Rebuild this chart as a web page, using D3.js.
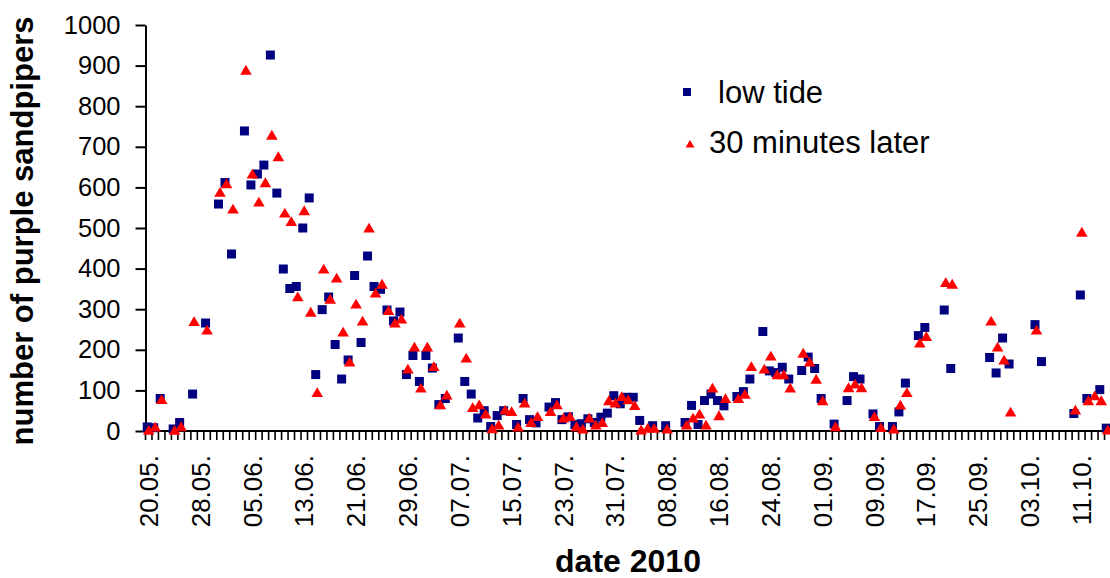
<!DOCTYPE html>
<html>
<head>
<meta charset="utf-8">
<script src="https://cdn.jsdelivr.net/npm/d3@7"></script>
<style>
  html, body { margin: 0; padding: 0; background: #ffffff; }
  svg { display: block; font-family: "Liberation Sans", Arial, sans-serif; }
</style>
</head>
<body>
<svg id="chart" width="1110" height="578"></svg>
<script>
// Counts of purple sandpipers, 2010 season (null = no count that day)
const dates = [
  "20.05.","21.05.","22.05.","24.05.","25.05.","27.05.","29.05.","31.05.","01.06.","02.06.",
  "04.06.","05.06.","06.06.","07.06.","08.06.","09.06.","10.06.","11.06.","12.06.","13.06.",
  "14.06.","15.06.","16.06.","17.06.","18.06.","19.06.","20.06.","21.06.","22.06.","23.06.",
  "24.06.","25.06.","26.06.","27.06.","28.06.","29.06.","30.06.","01.07.","02.07.","03.07.",
  "04.07.","05.07.","07.07.","08.07.","09.07.","10.07.","11.07.","12.07.","13.07.","14.07.",
  "15.07.","16.07.","17.07.","18.07.","19.07.","21.07.","22.07.","23.07.","24.07.","25.07.",
  "26.07.","27.07.","28.07.","29.07.","30.07.","31.07.","01.08.","02.08.","03.08.","04.08.",
  "05.08.","06.08.","08.08.","11.08.","12.08.","13.08.","14.08.","15.08.","16.08.","17.08.",
  "19.08.","20.08.","21.08.","23.08.","24.08.","25.08.","26.08.","27.08.","29.08.","30.08.",
  "31.08.","01.09.","03.09.","05.09.","06.09.","07.09.","09.09.","10.09.","12.09.","13.09.",
  "14.09.","16.09.","17.09.","20.09.","21.09.","27.09.","28.09.","29.09.","30.09.","04.10.",
  "05.10.","10.10.","11.10.","12.10.","13.10.","14.10.","15.10."
];

const lowTide = [
  10, 8, 80, 5, 21, 91, 266, 559, 612, 436,
  739, 606, 633, 655, 926, 586, 399, 351, 356, 500,
  574, 139, 299, 330, 213, 128, 175, 383, 218, 431,
  356, 349, 298, 271, 293, 139, 186, 122, 186, 155,
  65, 80, 229, 122, 91, 32, 50, 11, 38, 50,
  null, 16, 80, 28, 20, 59, 70, 28, 35, 16,
  18, 30, 21, 34, 44, 87, 67, 83, 83, 26,
  null, 13, 13, 21, 63, 16, 75, 91, 75, 62,
  85, 97, 128, 245, 148, 144, 157, 128, 149, 182,
  154, 80, 17, 75, 134, 128, 42, 11, 11, 47,
  118, 235, 255, 298, 154, 181, 143, 229, 165, 262,
  171, 43, 335, 80, null, 102, 7
];

const minutesLater = [
  2, 10, 78, 2, 11, 270, 249, 588, 609, 547,
  889, 633, 564, 612, 729, 676, 537, 516, 331, 543,
  293, 95, 399, 325, 377, 244, 170, 313, 271, 500,
  340, 362, 297, 266, 276, 153, 207, 106, 207, 159,
  65, 89, 266, 180, 58, 65, 42, 6, 15, 52,
  48, 10, 69, 21, 36, 48, 65, 32, 36, 11,
  5, 32, 15, 21, 75, 69, 85, 77, 63, 3,
  7, 7, 5, 15, 32, 42, 15, 106, 38, 80,
  80, 91, 159, 153, 185, 139, 139, 106, 192, 170,
  128, 75, 11, 107, 116, 107, 36, 9, 5, 64,
  95, 217, 233, 366, 362, 271, 207, 175, 47, 249,
  null, 52, 490, 75, 87, 75, 3
];

const tickLabels = [
  "20.05.","28.05.","05.06.","13.06.","21.06.","29.06.","07.07.","15.07.","23.07.","31.07.",
  "08.08.","16.08.","24.08.","01.09.","09.09.","17.09.","25.09.","03.10.","11.10."
];

const yTicks = [0, 100, 200, 300, 400, 500, 600, 700, 800, 900, 1000];

const seriesNames = ["low tide", "30 minutes later"];

// Every day of the season is one category on the x axis
const fmt = d3.timeFormat("%d.%m.");
const allDays = d3.timeDay.range(new Date(2010, 4, 20), new Date(2010, 9, 16)).map(fmt);

const svg = d3.select("#chart");
const NAVY = "#000080", RED = "#ff0000";

const x = d3.scaleBand().domain(allDays).range([145.5, 1111]).padding(0);
const y = d3.scaleLinear().domain([0, 1000]).range([431, 25]);
const cx = d => x(d) + x.bandwidth() / 2;

// y axis
const yAxis = svg.append("g")
  .attr("transform", "translate(145.5,0)")
  .call(d3.axisLeft(y).tickValues(yTicks).tickFormat(d3.format("d"))
    .tickSize(10).tickPadding(15).tickSizeOuter(0));
yAxis.select(".domain").attr("stroke", "#000").attr("stroke-width", 2);
yAxis.selectAll(".tick line").attr("stroke", "#000").attr("stroke-width", 2);
yAxis.selectAll(".tick text")
  .attr("font-family", "Liberation Sans, Arial, sans-serif")
  .attr("font-size", 25.5).attr("fill", "#000");

// x axis: a tick between every pair of days
const xg = svg.append("g");
xg.selectAll("line.day")
  .data(d3.range(allDays.length + 1))
  .join("line")
  .attr("class", "day")
  .attr("x1", i => 145.5 + i * x.step())
  .attr("x2", i => 145.5 + i * x.step())
  .attr("y1", 431).attr("y2", 440)
  .attr("stroke", "#000").attr("stroke-width", 1.6);
xg.append("line")
  .attr("x1", 144.5).attr("x2", 1111)
  .attr("y1", 431).attr("y2", 431)
  .attr("stroke", "#000").attr("stroke-width", 2);

xg.selectAll("text.lab")
  .data(tickLabels)
  .join("text")
  .attr("class", "lab")
  .attr("transform", d => `translate(${cx(d)},455) rotate(-90)`)
  .attr("text-anchor", "end")
  .attr("dy", "0.35em")
  .attr("font-size", 26)
  .attr("fill", "#000")
  .text(d => d);

// markers
const squarePath = "M-4.5,-4.5H4.5V4.5H-4.5Z";
const trianglePath = "M0,-5.2L5.8,4.6L-5.8,4.6Z";

const pts = dates.map((d, i) => ({ d, low: lowTide[i], later: minutesLater[i] }));

svg.append("g").selectAll("path")
  .data(pts.filter(p => p.low !== null))
  .join("path")
  .attr("d", squarePath)
  .attr("transform", p => `translate(${cx(p.d) - 1.5},${y(p.low)})`)
  .attr("fill", NAVY);

svg.append("g").selectAll("path")
  .data(pts.filter(p => p.later !== null))
  .join("path")
  .attr("d", trianglePath)
  .attr("transform", p => `translate(${cx(p.d)},${y(p.later)})`)
  .attr("fill", RED);

// axis titles
svg.append("text")
  .attr("transform", "translate(33,231) rotate(-90)")
  .attr("text-anchor", "middle")
  .attr("font-size", 31).attr("font-weight", "bold")
  .text("number of purple sandpipers");

svg.append("text")
  .attr("x", 628).attr("y", 572)
  .attr("text-anchor", "middle")
  .attr("font-size", 32).attr("font-weight", "bold")
  .text("date 2010");

// legend
const legend = svg.append("g");
legend.append("path").attr("d", "M-4,-4H4V4H-4Z").attr("transform", "translate(687,92)").attr("fill", NAVY);
legend.append("text").attr("x", 718).attr("y", 103).attr("font-size", 31).text(seriesNames[0]);
legend.append("path").attr("d", "M0,-4L4.5,3.5L-4.5,3.5Z").attr("transform", "translate(690,144)").attr("fill", RED);
legend.append("text").attr("x", 709).attr("y", 153).attr("font-size", 31).text(seriesNames[1]);
</script>
</body>
</html>
